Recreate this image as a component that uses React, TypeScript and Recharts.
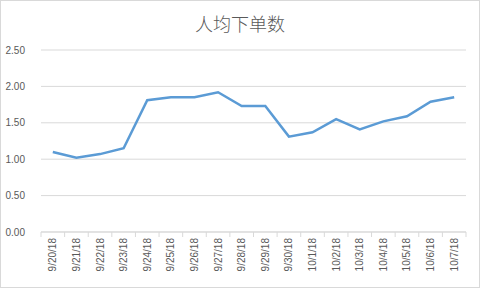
import { LineChart, Line, XAxis, YAxis, CartesianGrid } from "recharts"

// values
const dates = [
  "9/20/18", "9/21/18", "9/22/18", "9/23/18", "9/24/18", "9/25/18",
  "9/26/18", "9/27/18", "9/28/18", "9/29/18", "9/30/18", "10/1/18",
  "10/2/18", "10/3/18", "10/4/18", "10/5/18", "10/6/18", "10/7/18",
]
const perCapita = [
  1.10, 1.02, 1.07, 1.15, 1.81, 1.85,
  1.85, 1.92, 1.73, 1.73, 1.31, 1.37,
  1.55, 1.41, 1.52, 1.59, 1.79, 1.85,
]
const yTicks = [0, 0.5, 1, 1.5, 2, 2.5]

const data = dates.map((date, i) => ({ date, value: perCapita[i] }))

const W = 480
const H = 288
const margin = { top: 50, right: 14, left: 0, bottom: 6 }
const yAxisWidth = 41
const step = (W - margin.left - margin.right - yAxisWidth) / dates.length

function DateTick(props: any) {
  const { x, y, payload, index } = props
  return (
    <g>
      <line x1={x - step / 2} x2={x - step / 2} y1={y - 8} y2={y - 3} stroke="#d9d9d9" />
      {index === dates.length - 1 && (
        <line x1={x + step / 2} x2={x + step / 2} y1={y - 8} y2={y - 3} stroke="#d9d9d9" />
      )}
      <text
        x={x}
        y={y - 2}
        transform={`rotate(-90, ${x}, ${y - 2})`}
        textAnchor="end"
        dominantBaseline="central"
        fontSize={10}
        fill="#595959"
        fontFamily="Liberation Sans, Arial, sans-serif"
      >
        {payload.value}
      </text>
    </g>
  )
}

export default function App() {
  return (
    <div
      style={{
        position: "fixed",
        left: 0,
        top: 0,
        width: W,
        height: H,
        background: "#fff",
        boxSizing: "border-box",
        border: "1px solid #d9d9d9",
      }}
    >
      <div
        style={{
          position: "absolute",
          top: 8,
          width: "100%",
          textAlign: "center",
          fontFamily: "'Noto Sans CJK SC', sans-serif",
          fontSize: 18,
          fontWeight: 300,
          color: "#595959",
          lineHeight: "28px",
        }}
      >
        人均下单数
      </div>
      <div style={{ position: "absolute", left: -1, top: -1 }}>
        <LineChart width={W} height={H} data={data} margin={margin}>
          <CartesianGrid vertical={false} stroke="#d9d9d9" />
          <XAxis
            dataKey="date"
            interval={0}
            height={50}
            padding={{ left: step / 2, right: step / 2 }}
            axisLine={{ stroke: "#d9d9d9" }}
            tickLine={false}
            tick={<DateTick />}
          />
          <YAxis
            domain={[0, 2.5]}
            ticks={yTicks}
            width={yAxisWidth}
            axisLine={false}
            tickLine={false}
            tickFormatter={(v: number) => v.toFixed(2)}
            tick={{ fontSize: 10, fill: "#595959", fontFamily: "Liberation Sans, Arial, sans-serif" }}
            tickMargin={10}
          />
          <Line
            type="linear"
            dataKey="value"
            stroke="#5b9bd5"
            strokeWidth={2.5}
            dot={false}
            isAnimationActive={false}
          />
        </LineChart>
      </div>
    </div>
  )
}
